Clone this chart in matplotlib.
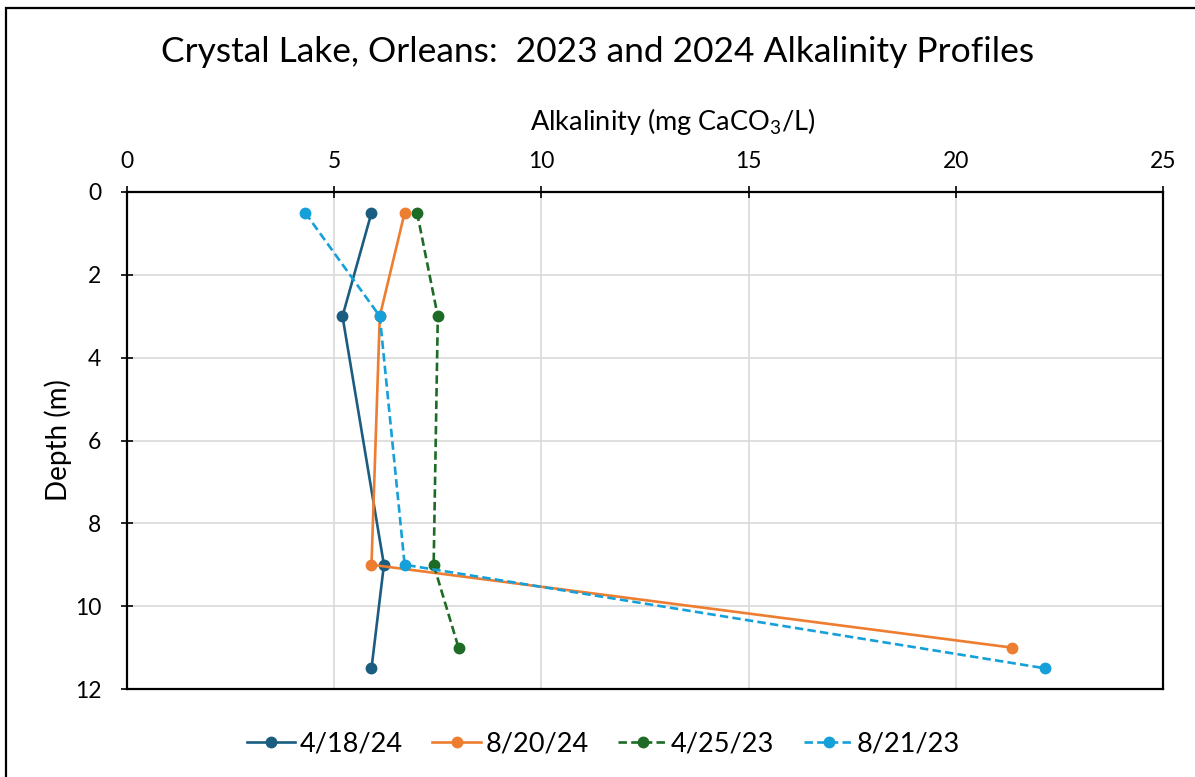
import matplotlib

matplotlib.use("Agg")
import matplotlib.pyplot as plt
from matplotlib.patches import Rectangle

plt.rcParams["font.family"] = ["Lato", "DejaVu Sans"]
plt.rcParams["mathtext.fontset"] = "custom"
plt.rcParams["mathtext.rm"] = "Lato"

# depth (m) and alkalinity (mg CaCO3/L) per sampling date
labels = ["4/18/24", "8/20/24", "4/25/23", "8/21/23"]
depth_0418_24 = [0.5, 3.0, 9.0, 11.5]
alk_0418_24 = [5.9, 5.2, 6.2, 5.9]
depth_0820_24 = [0.5, 3.0, 9.0, 11.0]
alk_0820_24 = [6.7, 6.1, 5.9, 21.35]
depth_0425_23 = [0.5, 3.0, 9.0, 11.0]
alk_0425_23 = [7.0, 7.5, 7.4, 8.0]
depth_0821_23 = [0.5, 3.0, 9.0, 11.5]
alk_0821_23 = [4.3, 6.1, 6.7, 22.15]

colors = ["#1A5D80", "#ED7D31", "#1D6B25", "#15A0D9"]
styles = ["-", "-", "--", "--"]

W, H = 1195, 777
fig = plt.figure(figsize=(W / 100, H / 100), dpi=100)
ax = fig.add_axes([127 / W, 1 - 689 / H, (1163 - 127) / W, (689 - 192) / H])

# outer chart border (right/bottom fall off the image)
fig.patches.append(Rectangle((6 / W, -0.1), 1.2, 1 - 8 / H + 0.1,
                             transform=fig.transFigure, fill=False,
                             edgecolor="black", lw=1.6))

series = [(alk_0418_24, depth_0418_24), (alk_0820_24, depth_0820_24),
          (alk_0425_23, depth_0425_23), (alk_0821_23, depth_0821_23)]
for (x, y), lab, c, ls in zip(series, labels, colors, styles):
    ax.plot(x, y, ls, color=c, lw=1.9, marker="o", ms=7.5, label=lab,
            dashes=(3.2, 1.6) if ls == "--" else (None, None), zorder=3)

ax.set_xlim(0, 25)
ax.set_ylim(12, 0)
ax.set_xticks(range(0, 26, 5))
ax.set_yticks(range(0, 13, 2))
ax.xaxis.tick_top()
ax.xaxis.set_label_position("top")
ax.grid(True, color="#D9D9D9", lw=1.2, zorder=0)
for s in ax.spines.values():
    s.set_color("black")
    s.set_linewidth(1.6)
ax.tick_params(axis="both", direction="inout", length=9, width=1.2,
               labelsize=16.5)
ax.tick_params(axis="x", pad=10)
ax.tick_params(axis="y", pad=14)
ax.tick_params(axis="x", which="both", bottom=False)

ax.set_xlabel("Alkalinity (mg CaCO$_3$/L)", fontsize=19.5)
ax.xaxis.set_label_coords(0.527, 1.141)
ax.xaxis.label.set_va("center")
ax.set_ylabel("Depth (m)", fontsize=20, labelpad=2)
fig.text(0.5, 1 - 52 / H, "Crystal Lake, Orleans:  2023 and 2024 Alkalinity Profiles",
         ha="center", va="center", fontsize=25.5)

leg = ax.legend(loc="center", bbox_to_anchor=(0.46, -0.11), ncol=4,
                frameon=False, fontsize=19.5, handlelength=1.8,
                columnspacing=1.1, handletextpad=0.15)

fig.savefig("out.png", dpi=100)
